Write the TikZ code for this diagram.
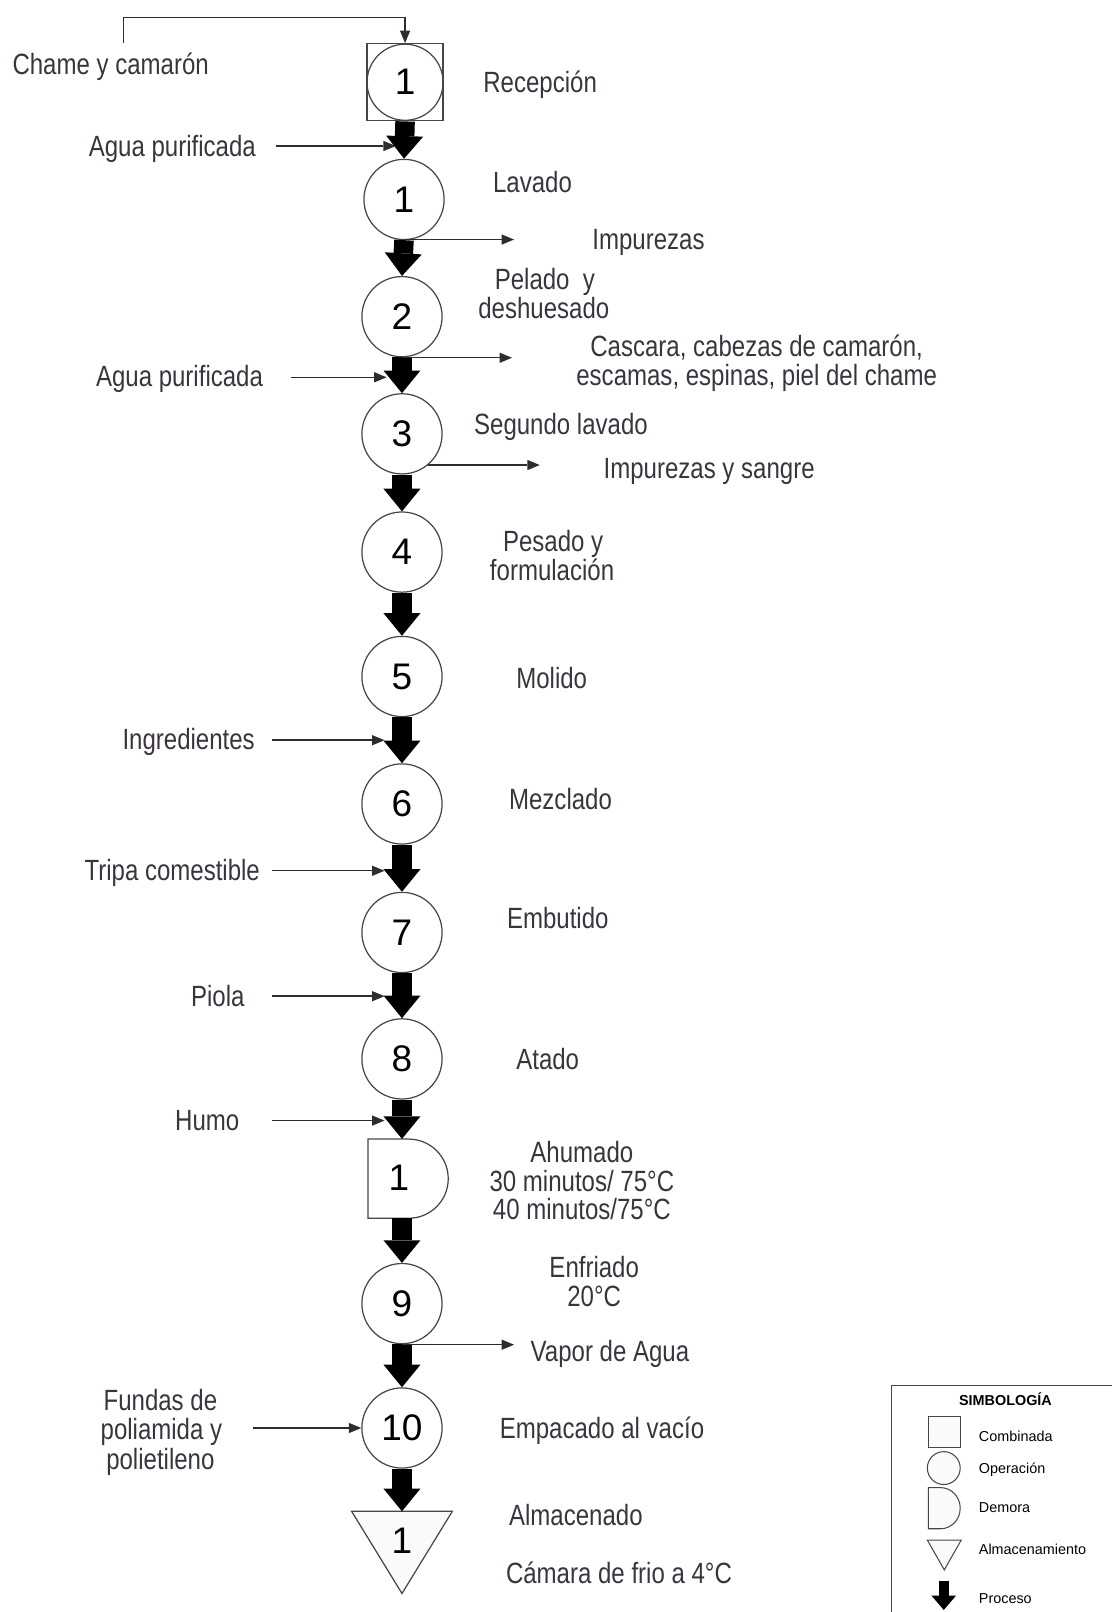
\documentclass[tikz,border=0pt]{standalone}
\usepackage{fontspec}
\setmainfont{Liberation Sans}[FakeStretch=0.82]
\newfontfamily\numfont{Liberation Sans}
\newfontfamily\legfont{Liberation Sans}
\usetikzlibrary{arrows.meta}
\definecolor{txt}{RGB}{58,52,62}
\definecolor{ln}{RGB}{70,70,70}
\definecolor{thinln}{RGB}{45,45,45}
\begin{document}
\begin{tikzpicture}[x=1pt,y=-1pt,
 lab/.style={font=\fontsize{28.5}{28}\selectfont, text=txt, inner sep=0pt},
 num/.style={font=\numfont\fontsize{36}{36}\selectfont, text=black},
 op/.style={circle, draw=ln, line width=1.2pt, minimum size=78pt, inner sep=0pt, num},
 bigarrow/.style={line width=19pt, draw=black, -{Triangle[width=36pt,length=22pt,line width=0pt]}},
 thinarrow/.style={draw=thinln, line width=1.4pt, -{Triangle[length=12pt,width=10pt,line width=0pt]}},
 leg/.style={font=\legfont\fontsize{14}{14}\selectfont, inner sep=0pt, anchor=base west, text=black},
 legshape/.style={draw=ln, line width=1pt, fill=gray!4}
]
\useasboundingbox (0,0) rectangle (1081,1568);

% ---- main column ----
\node[draw=ln, line width=1.2pt, minimum width=74pt, minimum height=75pt, inner sep=0pt] (sq) at (394,80) {};
\node[op, minimum size=74pt] (r1) at (394,80) {1};
\node[op] (o1) at (393,194) {1};
\node[op] (o2) at (391,308) {2};
\node[op] (o3) at (391,422) {3};
\node[op] (o4) at (391,537) {4};
\node[op] (o5) at (391,658) {5};
\node[op] (o6) at (391,782) {6};
\node[op] (o7) at (391,907) {7};
\node[op] (o8) at (391,1030) {8};
% delay (D shape)
\draw[ln, line width=1.2pt] (358,1108) -- (397.5,1108) arc[start angle=-90, end angle=90, radius=38.5] -- (358,1185) -- cycle;
\node[minimum width=78pt, minimum height=77pt, inner sep=0pt] (dn) at (391,1146.5) {};
\node[num, inner sep=0pt] (dnum) at (388,1146) {1};
\node[op] (o9) at (391,1268) {9};
\node[op] (o10) at (391,1389) {10};
% storage triangle
\draw[ln, line width=1.2pt, fill=gray!4] (342,1470) -- (440,1470) -- (391,1550) -- cycle;
\coordinate (tri) at (391,1470);
\node[num, inner sep=0pt] (tnum) at (391,1499) {1};

% ---- process arrows ----
\draw[bigarrow] (sq.south) -- (o1.north);
\draw[bigarrow] (o1.south) -- (o2.north);
\draw[bigarrow] (o2.south) -- (o3.north);
\draw[bigarrow] (o3.south) -- (o4.north);
\draw[bigarrow] (o4.south) -- (o5.north);
\draw[bigarrow] (o5.south) -- (o6.north);
\draw[bigarrow] (o6.south) -- (o7.north);
\draw[bigarrow] (o7.south) -- (o8.north);
\draw[bigarrow] (o8.south) -- (o8.south |- dn.north);
\draw[bigarrow] (o9.north |- dn.south) -- (o9.north);
\draw[bigarrow] (o9.south) -- (o10.north);
\draw[bigarrow] (o10.south) -- (tri);

% ---- top input ----
\node[lab, anchor=base west] (tCh) at (12,72) {Chame y camarón};
\coordinate (chs) at (120,42);
\draw[thinarrow] (chs) -- ++(0,-25) -| (sq.north);

% ---- step labels ----
\node[lab, anchor=base west] (tRec) at (470,90) {Recepción};
\node[lab, anchor=base] (tLav) at (518,187) {Lavado};
\node[lab, anchor=base] (tPel1) at (530,282) {Pelado\ \ y};
\node[lab, anchor=base] (tPel2) at (529,310) {deshuesado};
\node[lab, anchor=base west] (tSeg) at (461,423) {Segundo lavado};
\node[lab, anchor=base] (tPes1) at (538,536) {Pesado y};
\node[lab, anchor=base] (tPes2) at (537,565) {formulación};
\node[lab, anchor=base west] (tMol) at (502,670) {Molido};
\node[lab, anchor=base west] (tMez) at (495,787) {Mezclado};
\node[lab, anchor=base west] (tEmb) at (493,903) {Embutido};
\node[lab, anchor=base west] (tAta) at (502,1040) {Atado};
\node[lab, anchor=base] (tAhu1) at (566,1131) {Ahumado};
\node[lab, anchor=base] (tAhu2) at (566,1159) {30 minutos/ 75°C};
\node[lab, anchor=base] (tAhu3) at (566,1186) {40 minutos/75°C};
\node[lab, anchor=base] (tEnf1) at (578,1243) {Enfriado};
\node[lab, anchor=base] (tEnf2) at (578,1271) {20°C};
\node[lab, anchor=base west] (tEmp) at (486,1399) {Empacado al vacío};
\node[lab, anchor=base west] (tAlm) at (495,1484) {Almacenado};
\node[lab, anchor=base west] (tCam) at (492,1540) {Cámara de frio a 4°C};

% ---- outputs ----
\coordinate (imp1e) at (500,233);
\draw[thinarrow] (o1.south |- imp1e) -- (imp1e);
\node[lab, anchor=base west] (tImp1) at (576,243) {Impurezas};
\coordinate (casE) at (498,348);
\draw[thinarrow] (o2.south |- casE) -- (casE);
\node[lab, anchor=base] (tCas1) at (736,347) {Cascara, cabezas de camarón,};
\node[lab, anchor=base] (tCas2) at (736,375) {escamas, espinas, piel del chame};
\coordinate (imp3e) at (525,452);
\draw[thinarrow] (o3.-50) -- (o3.-50 -| imp3e);
\node[lab, anchor=base west] (tImp3) at (587,465) {Impurezas y sangre};
\coordinate (vapE) at (500,1308);
\draw[thinarrow] (o9.south |- vapE) -- (vapE);
\node[lab, anchor=base west] (tVap) at (516,1324) {Vapor de Agua};

% ---- inputs ----
\node[lab, anchor=base east] (tAg1) at (249,152) {Agua purificada};
\coordinate (ag1e) at (385,142);
\draw[thinarrow, shorten <=19pt] (tAg1.east |- ag1e) -- (ag1e);
\node[lab, anchor=base east] (tAg2) at (256,376) {Agua purificada};
\coordinate (ag2e) at (376,367);
\draw[thinarrow, shorten <=27pt] (tAg2.east |- ag2e) -- (ag2e);
\node[lab, anchor=base east] (tIng) at (248,729) {Ingredientes};
\coordinate (inge) at (374,720);
\draw[thinarrow, shorten <=17pt] (tIng.east |- inge) -- (inge);
\node[lab, anchor=base east] (tTri) at (253,856) {Tripa comestible};
\coordinate (trie) at (374,847);
\draw[thinarrow, shorten <=12pt] (tTri.east |- trie) -- (trie);
\node[lab, anchor=base east] (tPio) at (238,979) {Piola};
\coordinate (pioe) at (374,969);
\draw[thinarrow, shorten <=27pt] (tPio.east |- pioe) -- (pioe);
\node[lab, anchor=base east] (tHum) at (233,1100) {Humo};
\coordinate (hume) at (374,1090);
\draw[thinarrow, shorten <=32pt] (tHum.east |- hume) -- (hume);
\node[lab, anchor=base] (tFun1) at (156,1372) {Fundas de};
\node[lab, anchor=base] (tFun2) at (157,1400) {poliamida y};
\node[lab, anchor=base] (tFun3) at (156,1429) {polietileno};
\draw[thinarrow, shorten <=30pt] (tFun2.east |- o10.west) -- (o10.west);

% ---- legend ----
\draw[ln, line width=1pt] (867,1348) rectangle (1100,1600);
\node[font=\legfont\bfseries\fontsize{14}{14}\selectfont, inner sep=0pt] (legT) at (978,1361) {SIMBOLOGÍA};
\draw[legshape] (903,1378) rectangle (934,1408);
\node[leg] (l1) at (952,1402) {Combinada};
\draw[legshape] (918,1428) circle[radius=16];
\node[leg] (l2) at (952,1433) {Operación};
\draw[legshape] (903,1447) -- (915,1447) arc[start angle=-90, end angle=90, x radius=19, y radius=20] -- (903,1487) -- cycle;
\node[leg] (l3) at (952,1471) {Demora};
\draw[legshape] (902,1498) -- (935,1498) -- (918.5,1527) -- cycle;
\node[leg] (l4) at (952,1512) {Almacenamiento};
\coordinate (lpa) at (918,1538);
\coordinate (lpb) at (918,1566);
\draw[line width=10pt, -{Triangle[width=24pt,length=14pt,line width=0pt]}] (lpa) -- (lpb);
\node[leg] (l5) at (952,1560) {Proceso};
\end{tikzpicture}
\end{document}
